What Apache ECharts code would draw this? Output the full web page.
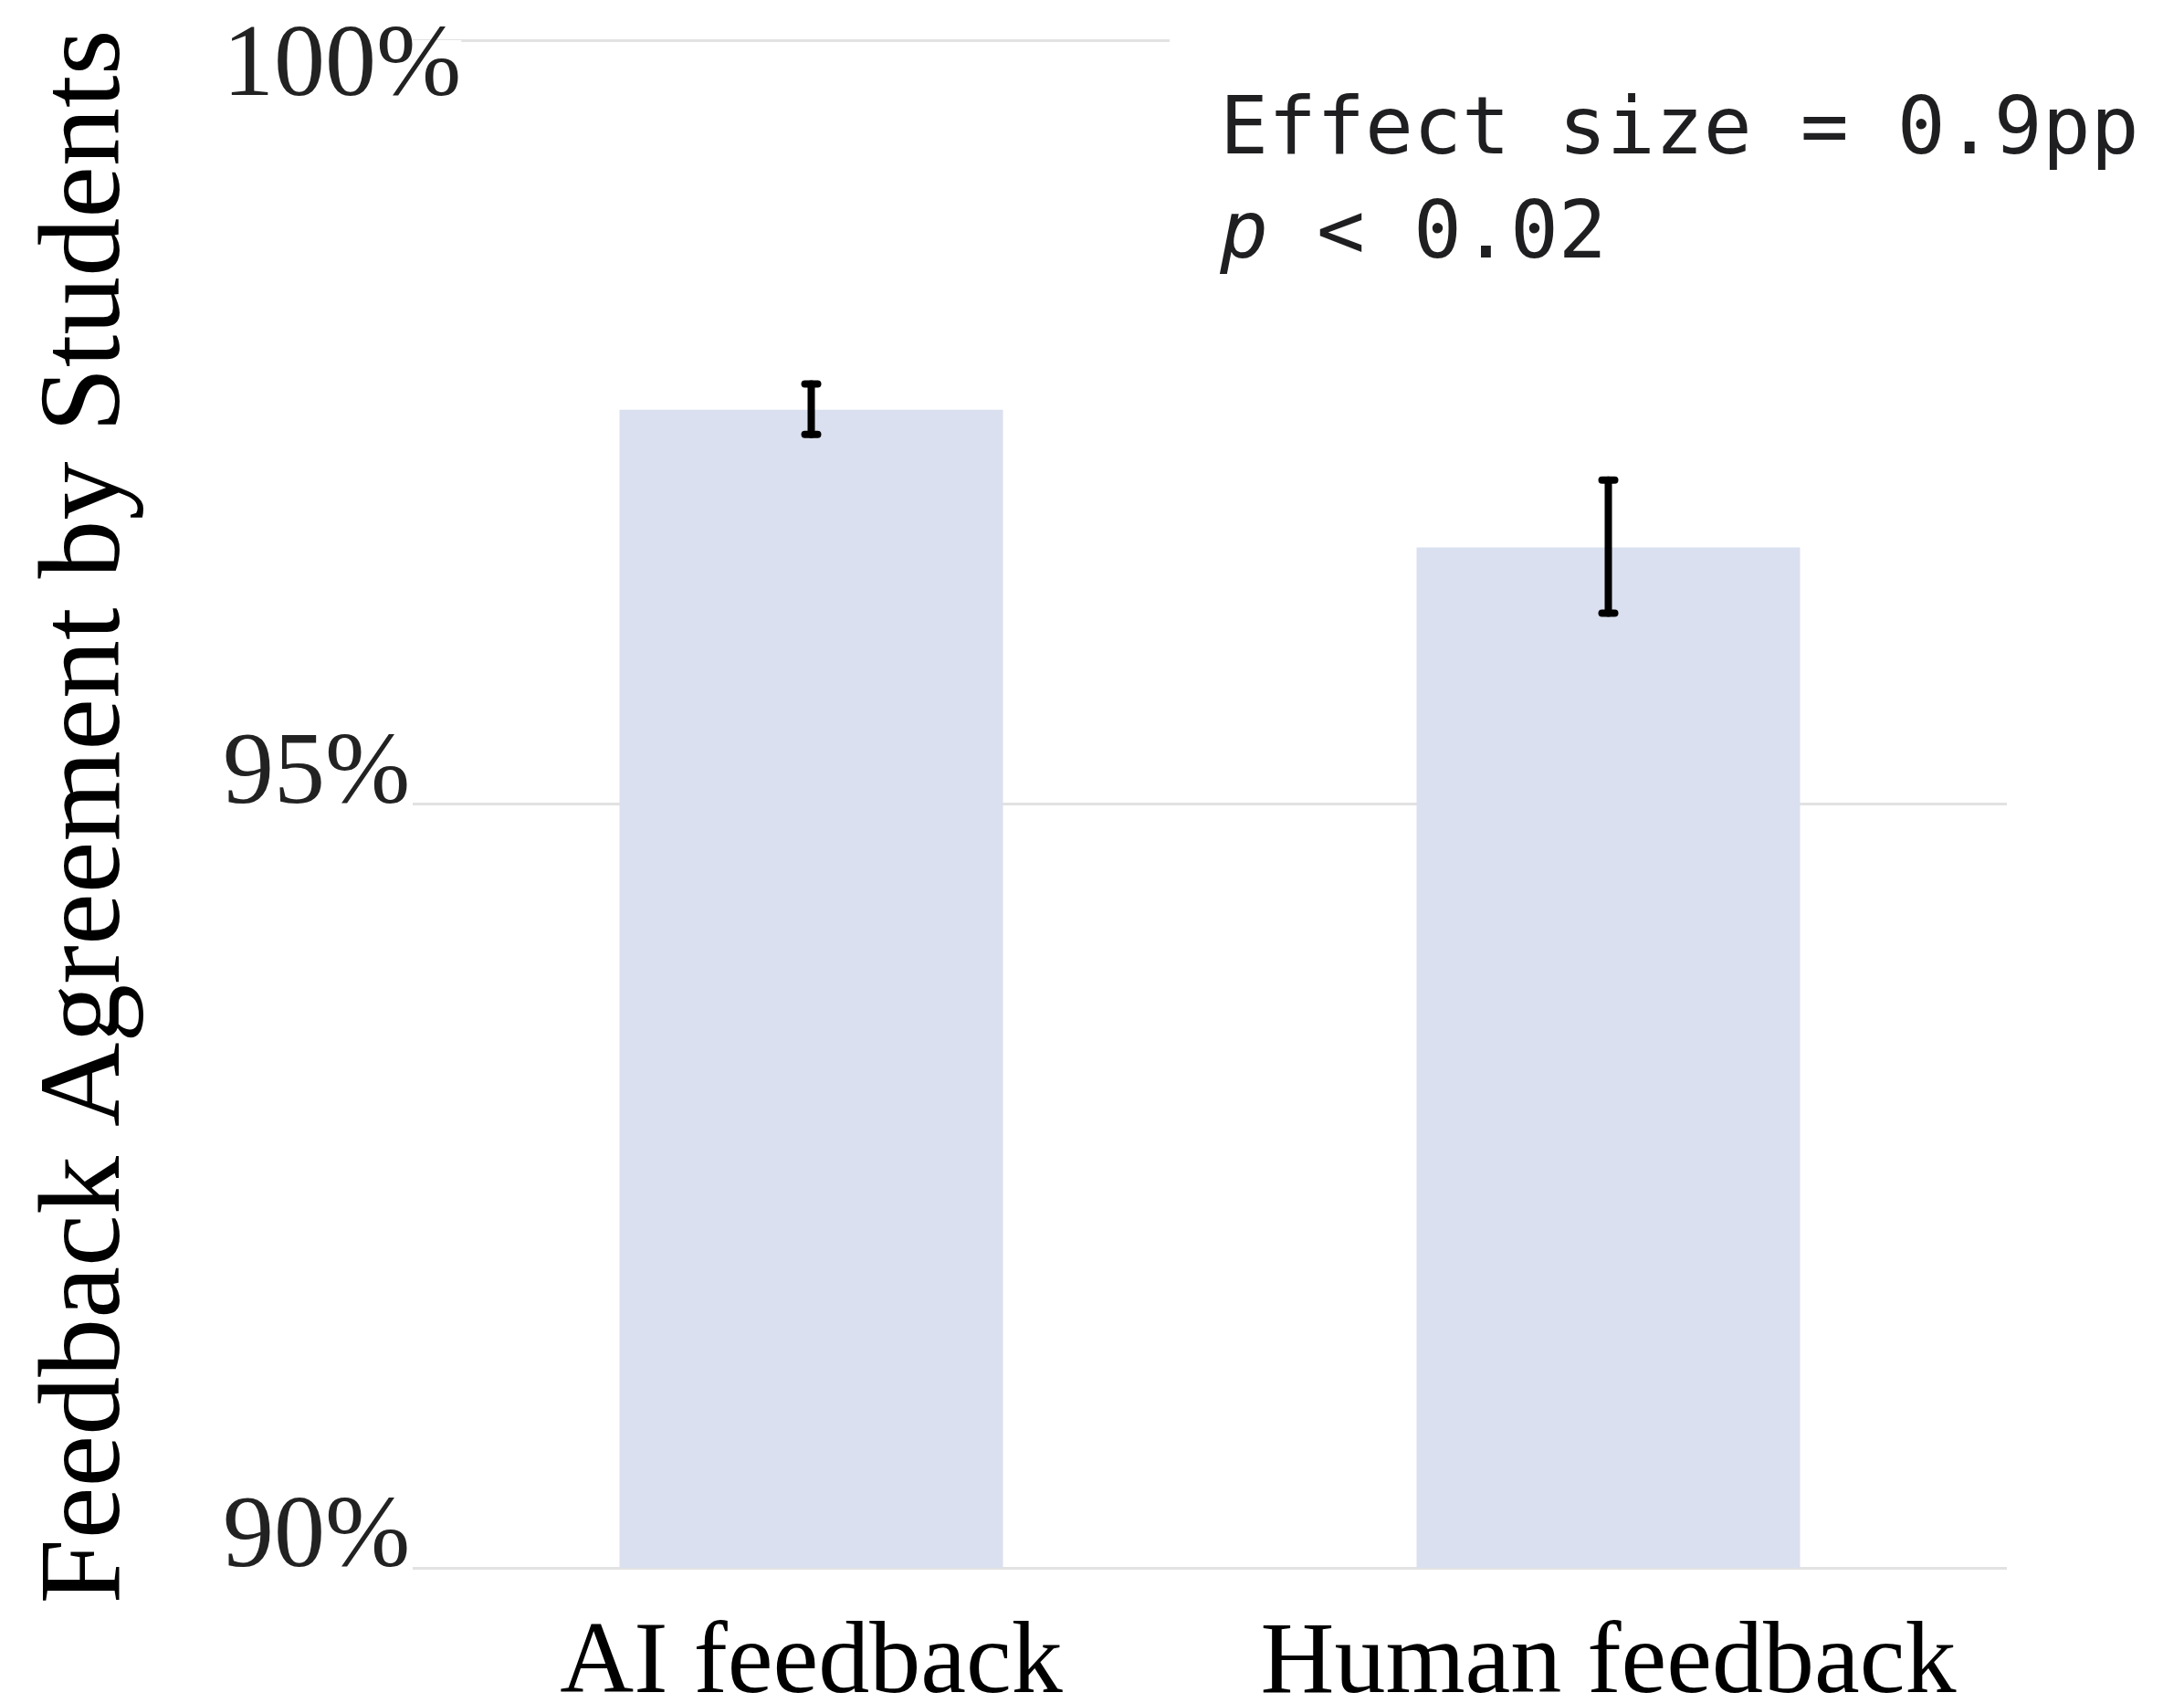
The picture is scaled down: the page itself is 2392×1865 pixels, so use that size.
<!DOCTYPE html>
<html>
<head>
<meta charset="utf-8">
<script src="https://cdn.jsdelivr.net/npm/echarts@6/dist/echarts.min.js"></script>
<style>
  html, body { margin: 0; padding: 0; background: #ffffff; }
  #chart { width: 2392px; height: 1865px; }
</style>
</head>
<body>
<div id="chart"></div>
<script>
// Share of feedback that students agreed with, by feedback source
const categories = ['AI feedback', 'Human feedback'];
const agreement = [97.58, 96.68];
const ciLow = [97.42, 96.25];
const ciHigh = [97.75, 97.12];
const yTickValues = [90, 95, 100];
const axisTitle = 'Feedback Agreement by Students';
const effectText = 'Effect size = 0.9pp';
const pSymbol = 'p';
const pText = ' < 0.02';

const errorData = categories.map((c, i) => [i, ciLow[i], ciHigh[i]]);

const chart = echarts.init(document.getElementById('chart'), null, { renderer: 'canvas' });

const serif = '"Liberation Serif", "Times New Roman", serif';
const mono = '"DejaVu Sans Mono", "Liberation Mono", monospace';

chart.setOption({
  backgroundColor: '#ffffff',
  animation: false,
  grid: { left: 452, right: 194, top: 44, bottom: 148, containLabel: false, outerBoundsMode: 'none' },
  xAxis: {
    type: 'category',
    data: categories,
    axisLine: { show: false },
    axisTick: { show: false },
    axisLabel: {
      interval: 0,
      hideOverlap: false,
      margin: 51,
      color: '#000000',
      fontFamily: serif,
      fontSize: 112
    }
  },
  yAxis: {
    type: 'value',
    min: yTickValues[0],
    max: yTickValues[yTickValues.length - 1],
    interval: yTickValues[1] - yTickValues[0],
    name: axisTitle,
    nameLocation: 'middle',
    nameGap: 292,
    nameTextStyle: { color: '#000000', fontFamily: serif, fontSize: 128, padding: [0, 28, 0, 0] },
    axisLine: { show: false },
    axisTick: { show: false },
    splitLine: { show: true, lineStyle: { color: '#e2e2e2', width: 3 } },
    axisLabel: {
      formatter: v => v + '%',
      align: 'left',
      margin: 208,
      verticalAlign: 'bottom',
      verticalAlignMaxLabel: 'top',
      lineHeight: 62,
      color: '#222222',
      fontFamily: serif,
      fontSize: 112,
      backgroundColor: '#ffffff'
    }
  },
  graphic: [{
    type: 'text',
    left: 1281,
    top: 0,
    z: 100,
    style: {
      text: '{a|' + effectText + '}\n{i|' + pSymbol + '}{a|' + pText + '}',
      backgroundColor: '#ffffff',
      padding: [88, 160, 64, 55],
      rich: {
        a: { fontFamily: mono, fontSize: 88, lineHeight: 114, fill: '#1f1f22' },
        i: { fontFamily: mono, fontStyle: 'italic', fontSize: 88, lineHeight: 114, fill: '#1f1f22' }
      }
    }
  }],
  series: [
    {
      type: 'bar',
      data: agreement,
      barWidth: 420,
      itemStyle: { color: '#dae0ef' },
      z: 2
    },
    {
      type: 'custom',
      data: errorData,
      z: 5,
      renderItem: (params, api) => {
        const x = api.value(0);
        const lo = api.coord([x, api.value(1)]);
        const hi = api.coord([x, api.value(2)]);
        const capHalf = 7;
        const style = { stroke: '#000000', lineWidth: 8, lineCap: 'round' };
        return {
          type: 'group',
          children: [
            { type: 'line', shape: { x1: hi[0], y1: hi[1], x2: lo[0], y2: lo[1] }, style },
            { type: 'line', shape: { x1: hi[0] - capHalf, y1: hi[1], x2: hi[0] + capHalf, y2: hi[1] }, style },
            { type: 'line', shape: { x1: lo[0] - capHalf, y1: lo[1], x2: lo[0] + capHalf, y2: lo[1] }, style }
          ]
        };
      }
    }
  ]
});
</script>
</body>
</html>
